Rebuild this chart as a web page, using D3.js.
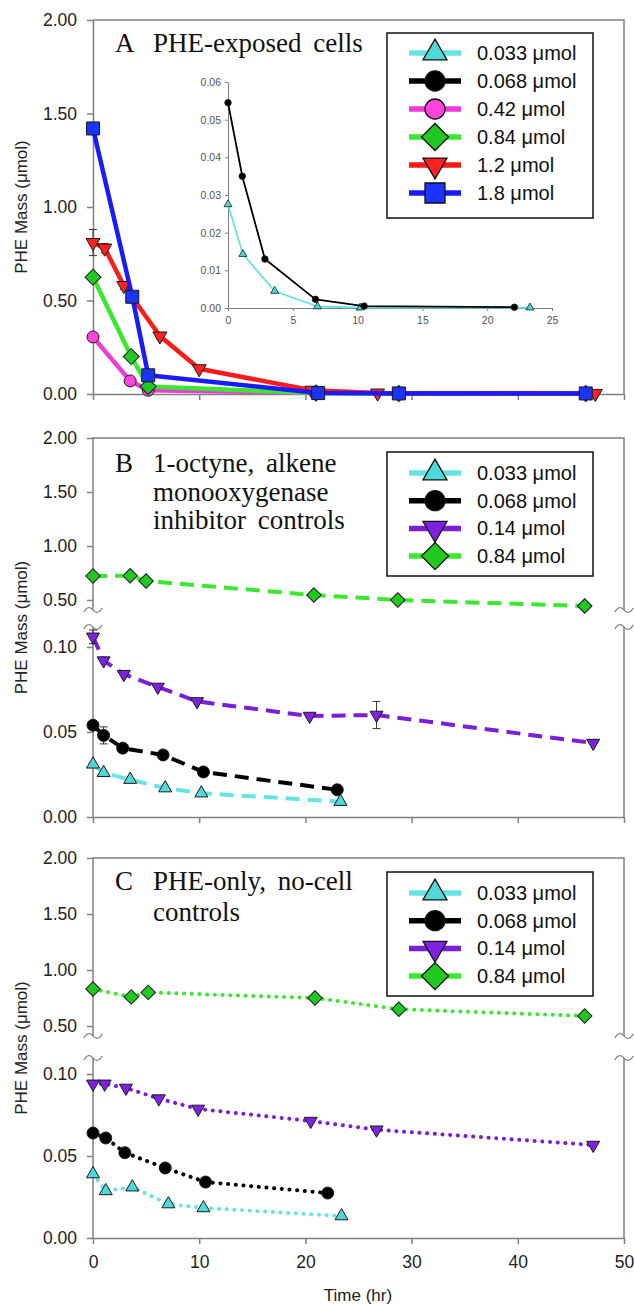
<!DOCTYPE html>
<html>
<head>
<meta charset="utf-8">
<script src="https://cdn.jsdelivr.net/npm/d3@7"></script>
<style>
  body { margin: 0; background: #fff; }
  svg { display: block; font-family: "Liberation Sans", Arial, sans-serif; }
</style>
</head>
<body>
<svg id="chart" width="634" height="1305"></svg>
<script>
// ---- data (time in hr, PHE mass in umol) ----
const timeTicks = [0, 10, 20, 30, 40, 50];
const upperTicks = [0.5, 1.0, 1.5, 2.0];
const lowerTicks = [0, 0.05, 0.1];
const fullTicks = [0, 0.5, 1.0, 1.5, 2.0];
const insetYTicks = [0, 0.01, 0.02, 0.03, 0.04, 0.05, 0.06];
const insetXTicks = [0, 5, 10, 15, 20, 25];

const legendA = ["0.033 μmol", "0.068 μmol", "0.42 μmol", "0.84 μmol", "1.2 μmol", "1.8 μmol"];
const legendBC = ["0.033 μmol", "0.068 μmol", "0.14 μmol", "0.84 μmol"];

// panel A, PHE-exposed cells
const a042_t = [0, 3.5, 5.2, 21.0];
const a042_v = [0.305, 0.07, 0.02, 0.005];
const a084_t = [0, 3.6, 5.2, 21.0, 28.8, 46.4];
const a084_v = [0.625, 0.2, 0.04, 0.005, 0.003, 0.003];
const a12_t = [0, 1.1, 2.9, 6.3, 10.0, 20.6, 26.8, 47.3];
const a12_v = [0.81, 0.78, 0.58, 0.31, 0.135, 0.02, 0.005, 0.003];
const a12_err = [0.07, 0.025, 0.02, 0.015, 0, 0, 0, 0];
const a18_t = [0, 3.7, 5.2, 21.2, 28.8, 46.4];
const a18_v = [1.42, 0.52, 0.1, 0.005, 0.003, 0.003];

// panel A inset
const in0033_t = [0, 1.15, 3.6, 6.9, 10.2, 23.3];
const in0033_v = [0.0275, 0.0143, 0.0045, 0.0004, 0.0001, 0.0001];
const in0068_t = [0, 1.1, 2.85, 6.75, 10.5, 22.1];
const in0068_v = [0.0545, 0.035, 0.013, 0.0023, 0.0005, 0.0002];

// panel B, 1-octyne controls
const b0033_t = [0, 1.0, 3.5, 6.8, 10.2, 23.3];
const b0033_v = [0.031, 0.026, 0.022, 0.017, 0.014, 0.009];
const b0068_t = [0, 1.0, 2.8, 6.6, 10.4, 23.0];
const b0068_v = [0.054, 0.048, 0.0405, 0.0365, 0.0265, 0.016];
const b0068_err = [0, 0.005, 0, 0, 0, 0];
const b014_t = [0, 1.0, 2.9, 6.1, 9.8, 20.4, 26.7, 47.1];
const b014_v = [0.106, 0.092, 0.084, 0.0765, 0.068, 0.0594, 0.06, 0.0435];
const b014_err = [0.004, 0, 0, 0, 0, 0, 0.008, 0];
const b084_t = [0, 3.5, 5.0, 20.8, 28.7, 46.3];
const b084_v = [0.722, 0.725, 0.676, 0.546, 0.5, 0.444];

// panel C, no-cell controls
const c0033_t = [0, 1.2, 3.7, 7.1, 10.4, 23.4];
const c0033_v = [0.039, 0.0287, 0.031, 0.0207, 0.0183, 0.0134];
const c0068_t = [0, 1.2, 3.0, 6.8, 10.6, 22.1];
const c0068_v = [0.064, 0.061, 0.052, 0.0427, 0.0341, 0.0274];
const c014_t = [0, 1.1, 3.1, 6.2, 9.9, 20.5, 26.7, 47.1];
const c014_v = [0.094, 0.094, 0.0915, 0.085, 0.0787, 0.0713, 0.066, 0.0567];
const c084_t = [0, 3.6, 5.2, 20.9, 28.8, 46.3];
const c084_v = [0.83, 0.76, 0.8, 0.75, 0.65, 0.59];

// ---- styles ----
const axisColor = "#808080";
const fmt2 = d3.format(".2f");
const sty = {
  cyan: { line: "#66e4e4", fill: "#4fd8d8", shape: "triangle" },
  black: { line: "#000", fill: "#000", shape: "circle" },
  magenta: { line: "#f03ad8", fill: "#ff44dd", shape: "circle" },
  green: { line: "#3be830", fill: "#22c822", shape: "diamond" },
  red: { line: "#ff1a1a", fill: "#ff2020", shape: "triangleDown" },
  blue: { line: "#1a1aff", fill: "#1a33ff", shape: "square" },
  purple: { line: "#7a1fd8", fill: "#7f22e0", shape: "triangleDown" },
};

const zip = (t, v, e) => t.map((d, i) => ({ t: d, v: v[i], e: e ? e[i] : 0 }));

const svg = d3.select("#chart");
const x = d3.scaleLinear().domain([0, 50]).range([93, 624]);
const xLeft = 93, xRight = 624;

function markerPath(shape, w) {
  if (shape === "triangle" || shape === "triangleDown")
    return d3.symbol(d3.symbolTriangle, (Math.sqrt(3) / 4) * w * w)();
  if (shape === "circle") return d3.symbol(d3.symbolCircle, Math.PI * (w / 2) ** 2)();
  if (shape === "square") return d3.symbol(d3.symbolSquare, w * w)();
  return d3.symbol(d3.symbolSquare, (w * w) / 2)(); // diamond
}
function markerRot(shape) {
  if (shape === "triangleDown") return " rotate(180)";
  if (shape === "diamond") return " rotate(45)";
  return "";
}

function drawSeries(g, xs, ys, pts, st, o) {
  g.append("path")
    .datum(pts)
    .attr("fill", "none")
    .attr("stroke", st.line)
    .attr("stroke-width", o.width)
    .attr("stroke-dasharray", o.dash || null)
    .attr("stroke-linecap", o.cap || "butt")
    .attr("stroke-linejoin", "round")
    .attr("d", d3.line().x((d) => xs(d.t)).y((d) => ys(d.v)));

  const errs = pts.filter((d) => d.e > 0);
  errs.forEach((d) => {
    const cx = xs(d.t), y0 = ys(d.v - d.e), y1 = ys(d.v + d.e);
    g.append("path")
      .attr("stroke", "#333")
      .attr("stroke-width", 1)
      .attr("fill", "none")
      .attr("d", `M${cx},${y0}V${y1}M${cx - 4},${y0}H${cx + 4}M${cx - 4},${y1}H${cx + 4}`);
  });

  g.selectAll(null)
    .data(pts)
    .join("path")
    .attr("d", markerPath(st.shape, o.size[st.shape]))
    .attr("transform", (d) => `translate(${xs(d.t)},${ys(d.v)})` + markerRot(st.shape))
    .attr("fill", st.fill)
    .attr("stroke", "#1a1a1a")
    .attr("stroke-width", o.mstroke || 1);
}

function styleAxis(g, size) {
  g.selectAll("line,path").attr("stroke", axisColor).attr("stroke-width", 1.5);
  g.selectAll("text")
    .attr("fill", "#222")
    .style("font-size", size + "px")
    .style("font-family", '"Liberation Sans", Arial, sans-serif');
}

function squiggle(g, cx, cy) {
  g.append("path")
    .attr("fill", "none")
    .attr("stroke", axisColor)
    .attr("stroke-width", 1.3)
    .attr("d", `M${cx - 9},${cy + 2}C${cx - 6},${cy - 4} ${cx - 2},${cy - 3} ${cx},${cy}S${cx + 6},${cy + 4} ${cx + 9},${cy - 2}`);
}

function bottomAxis(g, yPos, labels) {
  const ax = g.append("g")
    .attr("transform", `translate(0,${yPos})`)
    .call(d3.axisBottom(x).tickValues(timeTicks).tickSize(6).tickSizeOuter(0)
      .tickPadding(12).tickFormat(labels ? d3.format("d") : ""));
  styleAxis(ax, 17.5);
}

function yLabel(g, cy) {
  g.append("text")
    .attr("transform", `translate(23,${cy}) rotate(-90)`)
    .attr("text-anchor", "middle")
    .attr("dominant-baseline", "middle")
    .attr("fill", "#222")
    .style("font-size", "17px")
    .text("PHE Mass (μmol)");
}

function title(g, letter, lines, baseline, lh) {
  const t = g.append("g")
    .style("font-family", '"Liberation Serif", "Times New Roman", serif')
    .style("font-size", "27px")
    .attr("fill", "#111");
  t.append("text").attr("x", 115).attr("y", baseline).text(letter);
  lines.forEach((s, i) => {
    t.append("text")
      .attr("x", 153)
      .attr("y", baseline + i * lh)
      .style("word-spacing", "5px")
      .text(s);
  });
}

function legend(g, box, labels, styles, row0, dy) {
  g.append("rect")
    .attr("x", box[0]).attr("y", box[1])
    .attr("width", box[2]).attr("height", box[3])
    .attr("fill", "#fff").attr("stroke", "#111").attr("stroke-width", 1.5);
  const size = { triangle: 24, triangleDown: 24, circle: 20, square: 20, diamond: 27 };
  labels.forEach((lab, i) => {
    const st = styles[i], cy = row0 + i * dy;
    g.append("line")
      .attr("x1", 409).attr("x2", 461).attr("y1", cy).attr("y2", cy)
      .attr("stroke", st.line).attr("stroke-width", 5.5);
    g.append("path")
      .attr("d", markerPath(st.shape, size[st.shape]))
      .attr("transform", `translate(435,${cy})` + markerRot(st.shape))
      .attr("fill", st.fill).attr("stroke", "#111").attr("stroke-width", 1.3);
    g.append("text")
      .attr("x", 477).attr("y", cy + 7)
      .attr("fill", "#111")
      .style("font-size", "20px")
      .text(lab);
  });
}

// ---- panel A ----
(function () {
  const g = svg.append("g");
  const top = 20, bottom = 394;
  const y = d3.scaleLinear().domain([0, 2]).range([bottom, top]);

  g.append("path")
    .attr("fill", "none").attr("stroke", axisColor).attr("stroke-width", 1.5)
    .attr("d", `M${xLeft},${top}H${xRight}V${bottom}`);
  const ay = g.append("g").attr("transform", `translate(${xLeft},0)`)
    .call(d3.axisLeft(y).tickValues(fullTicks).tickFormat(fmt2).tickSize(6).tickSizeOuter(0).tickPadding(10));
  styleAxis(ay, 17.5);
  bottomAxis(g, bottom, false);
  yLabel(g, (top + bottom) / 2);
  title(g, "A", ["PHE-exposed cells"], 52, 29);

  // inset
  const ix = d3.scaleLinear().domain([0, 25]).range([228, 552]);
  const iy = d3.scaleLinear().domain([0, 0.06]).range([308, 82]);
  const ia = g.append("g").attr("transform", "translate(228,0)")
    .call(d3.axisLeft(iy).tickValues(insetYTicks).tickFormat(fmt2).tickSize(3).tickSizeOuter(0).tickPadding(4));
  const ib = g.append("g").attr("transform", "translate(0,308)")
    .call(d3.axisBottom(ix).tickValues(insetXTicks).tickSize(3).tickSizeOuter(0).tickPadding(6));
  [ia, ib].forEach((a) => {
    a.selectAll("line,path").attr("stroke", axisColor).attr("stroke-width", 1);
    a.selectAll("text").attr("fill", "#555").style("font-size", "10.5px");
  });
  const inSize = { triangle: 8, circle: 6.5 };
  drawSeries(g, ix, iy, zip(in0033_t, in0033_v), sty.cyan, { width: 1.8, size: inSize, mstroke: 0.8 });
  drawSeries(g, ix, iy, zip(in0068_t, in0068_v), sty.black, { width: 1.8, size: inSize, mstroke: 0.8 });

  const mSize = { circle: 12, diamond: 16, triangleDown: 14, square: 13 };
  const o = { width: 4.5, size: mSize };
  drawSeries(g, x, y, zip(a042_t, a042_v), sty.magenta, o);
  drawSeries(g, x, y, zip(a084_t, a084_v), sty.green, o);
  drawSeries(g, x, y, zip(a12_t, a12_v, a12_err), sty.red, o);
  drawSeries(g, x, y, zip(a18_t, a18_v), sty.blue, o);

  legend(g, [387, 33, 206, 185], legendA,
    [sty.cyan, sty.black, sty.magenta, sty.green, sty.red, sty.blue], 53, 28);
})();

// ---- panels B and C (broken y axis) ----
function brokenPanel(cfg) {
  const g = svg.append("g");
  const up = d3.scaleLinear().domain([0.5, 2]).range([cfg.y05, cfg.top]);
  const lo = d3.scaleLinear().domain([0, 0.1]).range([cfg.bottom, cfg.y01]);
  const yv = (v) => (v >= 0.3 ? up(v) : lo(v));

  g.append("path")
    .attr("fill", "none").attr("stroke", axisColor).attr("stroke-width", 1.5)
    .attr("d", `M${xLeft},${cfg.brk[0]}V${cfg.top}H${xRight}V${cfg.brk[0]}` +
      `M${xLeft},${cfg.brk[1]}V${cfg.bottom}M${xRight},${cfg.brk[1]}V${cfg.bottom}`);
  [xLeft, xRight].forEach((cx) => cfg.brk.forEach((cy) => squiggle(g, cx, cy)));

  const au = g.append("g").attr("transform", `translate(${xLeft},0)`)
    .call(d3.axisLeft(up).tickValues(upperTicks).tickFormat(fmt2).tickSize(6).tickPadding(10));
  au.select(".domain").remove();
  styleAxis(au, 17.5);
  const al = g.append("g").attr("transform", `translate(${xLeft},0)`)
    .call(d3.axisLeft(lo).tickValues(lowerTicks).tickFormat(fmt2).tickSize(6).tickPadding(10));
  al.select(".domain").remove();
  styleAxis(al, 17.5);
  bottomAxis(g, cfg.bottom, cfg.xLabels);
  yLabel(g, (cfg.top + cfg.bottom) / 2);
  title(g, cfg.letter, cfg.lines, cfg.baseline, cfg.lh);

  const mSize = { triangle: 13, triangleDown: 13, circle: 12, diamond: 14.5 };
  const o = { width: 4, size: mSize, dash: cfg.dash, cap: cfg.cap };
  cfg.series.forEach((s) => drawSeries(g, x, yv, s.pts, s.st, o));

  legend(g, [387, cfg.legTop, 206, 124], legendBC,
    [sty.cyan, sty.black, sty.purple, sty.green], cfg.legTop + 21, 27.7);
}

brokenPanel({
  top: 438, y05: 600, y01: 647, bottom: 817, brk: [610, 627],
  letter: "B", lines: ["1-octyne, alkene", "monooxygenase", "inhibitor controls"],
  baseline: 472, lh: 28.5, legTop: 452, xLabels: false,
  dash: "14,8", cap: "butt",
  series: [
    { pts: zip(b0033_t, b0033_v), st: sty.cyan },
    { pts: zip(b0068_t, b0068_v, b0068_err), st: sty.black },
    { pts: zip(b014_t, b014_v, b014_err), st: sty.purple },
    { pts: zip(b084_t, b084_v), st: sty.green },
  ],
});

brokenPanel({
  top: 858, y05: 1026, y01: 1074, bottom: 1238, brk: [1036, 1058],
  letter: "C", lines: ["PHE-only, no-cell", "controls"],
  baseline: 890, lh: 31, legTop: 872, xLabels: true,
  dash: "0.1,7.6", cap: "round",
  series: [
    { pts: zip(c0033_t, c0033_v), st: sty.cyan },
    { pts: zip(c0068_t, c0068_v), st: sty.black },
    { pts: zip(c014_t, c014_v), st: sty.purple },
    { pts: zip(c084_t, c084_v), st: sty.green },
  ],
});

svg.append("text")
  .attr("x", 358).attr("y", 1301)
  .attr("text-anchor", "middle")
  .attr("fill", "#222")
  .style("font-size", "17px")
  .text("Time (hr)");
</script>
</body>
</html>
